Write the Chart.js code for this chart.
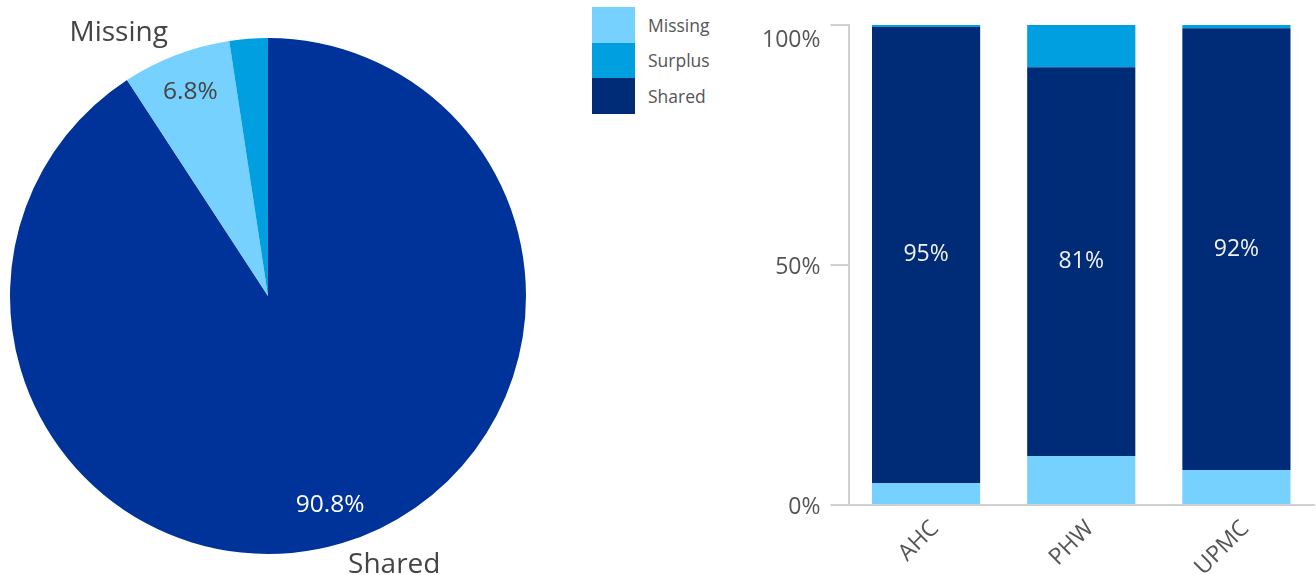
<!DOCTYPE html>
<html>
<head>
<meta charset="utf-8">
<script src="https://cdn.jsdelivr.net/npm/chart.js"></script>
<style>
  body { margin: 0; background: #fff; font-family: "Open Sans", sans-serif; }
  #wrap { position: relative; width: 1316px; height: 575px; overflow: hidden; }
  #pie { position: absolute; left: 0; top: 0; }
  #bars { position: absolute; left: 740px; top: 0; }
  #legend { position: absolute; left: 592px; top: 7px; }
  .row { display: flex; align-items: center; height: 35.5px; }
  .sw { width: 43px; height: 35.5px; }
  .lbl { margin-left: 13px; font-size: 17.5px; color: #555; }
</style>
</head>
<body>
<div id="wrap">
  <canvas id="pie" width="580" height="575"></canvas>
  <div id="legend"></div>
  <canvas id="bars" width="576" height="575"></canvas>
</div>
<script>
// overall split
const pieLabels = ["Shared", "Missing", "Surplus"];
const pieValues = [90.8, 6.8, 2.4];
const pieColors = ["#003399", "#77D1FF", "#009FE0"];

// per-site split
const sites = ["AHC", "PHW", "UPMC"];
const missing = [4.6, 10.2, 7.3];
const shared = [95, 81, 92];
const surplus = [0.4, 8.8, 0.7];
const yTicks = [0, 50, 100];

const colors = { Missing: "#77D1FF", Surplus: "#009FE0", Shared: "#002C77" };
const legendOrder = ["Missing", "Surplus", "Shared"];

const FONT = "'Open Sans', sans-serif";
const GREY = "#555";

// legend boxes
const legend = document.getElementById("legend");
legendOrder.forEach(name => {
  const row = document.createElement("div");
  row.className = "row";
  row.innerHTML = '<div class="sw" style="background:' + colors[name] + '"></div><div class="lbl">' + name + '</div>';
  legend.appendChild(row);
});

// labels for the pie: percentage inside, name outside for the bigger slices
const pieLabelPlugin = {
  id: "pieLabels",
  afterDatasetsDraw(chart) {
    const ctx = chart.ctx;
    const arcs = chart.getDatasetMeta(0).data;
    ctx.save();
    arcs.forEach((arc, i) => {
      const v = pieValues[i];
      if (v < 5) return;
      const mid = (arc.startAngle + arc.endAngle) / 2;
      const r = arc.outerRadius;
      const cos = Math.cos(mid), sin = Math.sin(mid);
      ctx.font = "24.5px " + FONT;
      ctx.textAlign = "center";
      ctx.textBaseline = "middle";
      ctx.fillStyle = i === 0 ? "#fff" : "#444";
      ctx.fillText(v.toFixed(1) + "%", arc.x + cos * r * 0.845, arc.y + sin * r * 0.845);
      ctx.font = "28px " + FONT;
      ctx.fillStyle = "#444";
      ctx.textAlign = cos < 0 ? "right" : "left";
      ctx.fillText(pieLabels[i], arc.x + cos * (r + 23), arc.y + sin * (r + 23));
    });
    ctx.restore();
  }
};

new Chart(document.getElementById("pie"), {
  type: "pie",
  data: {
    labels: pieLabels,
    datasets: [{ data: pieValues, backgroundColor: pieColors, borderWidth: 0 }]
  },
  options: {
    responsive: false,
    animation: false,
    layout: { padding: { top: 38, bottom: 21, left: 10, right: 54 } },
    plugins: { legend: { display: false }, tooltip: { enabled: false } }
  },
  plugins: [pieLabelPlugin]
});

// value labels on the shared segments, plus y tick labels (top one kept inside the canvas)
const barLabelPlugin = {
  id: "barLabels",
  afterDatasetsDraw(chart) {
    const ctx = chart.ctx;
    const idx = chart.data.datasets.findIndex(d => d.label === "Shared");
    const meta = chart.getDatasetMeta(idx);
    ctx.save();
    ctx.font = "23px " + FONT;
    ctx.fillStyle = "#f2f2f2";
    ctx.textAlign = "center";
    ctx.textBaseline = "middle";
    meta.data.forEach((bar, i) => {
      const p = bar.getCenterPoint();
      ctx.fillText(Math.round(shared[i]) + "%", p.x, p.y);
    });

    const y = chart.scales.y;
    ctx.font = "23px " + FONT;
    ctx.fillStyle = GREY;
    ctx.textAlign = "right";
    yTicks.forEach(v => {
      const py = Math.max(y.getPixelForValue(v) + 2, 40);
      ctx.fillText(v + "%", y.right - 18 - 10, py);
    });
    ctx.restore();
  }
};

const series = { Missing: missing, Shared: shared, Surplus: surplus };

new Chart(document.getElementById("bars"), {
  type: "bar",
  data: {
    labels: sites,
    datasets: ["Missing", "Shared", "Surplus"].map(name => ({
      label: name,
      data: series[name],
      backgroundColor: colors[name],
      borderWidth: 0,
      barPercentage: 0.697,
      categoryPercentage: 1
    }))
  },
  options: {
    responsive: false,
    animation: false,
    layout: { padding: { top: 25, right: 2, left: 0, bottom: 0 } },
    plugins: { legend: { display: false }, tooltip: { enabled: false } },
    scales: {
      x: {
        stacked: true,
        grid: { display: false },
        border: { display: true, color: "#d0d0d0", width: 2 },
        ticks: {
          color: GREY,
          font: { family: FONT, size: 23 },
          minRotation: 45,
          maxRotation: 45,
          padding: 2,
          labelOffset: 9
        },
        afterFit(scale) { scale.height = 70; }
      },
      y: {
        stacked: true,
        min: yTicks[0],
        max: yTicks[yTicks.length - 1],
        afterBuildTicks(scale) { scale.ticks = yTicks.map(v => ({ value: v })); },
        grid: { drawOnChartArea: false, drawTicks: true, tickLength: 18, color: "#d0d0d0", lineWidth: 2 },
        border: { display: true, color: "#d0d0d0", width: 2 },
        ticks: {
          color: "transparent",
          font: { family: FONT, size: 23 },
          padding: 10
        },
        afterFit(scale) { scale.width = 108.5; }
      }
    }
  },
  plugins: [barLabelPlugin]
});
</script>
</body>
</html>
